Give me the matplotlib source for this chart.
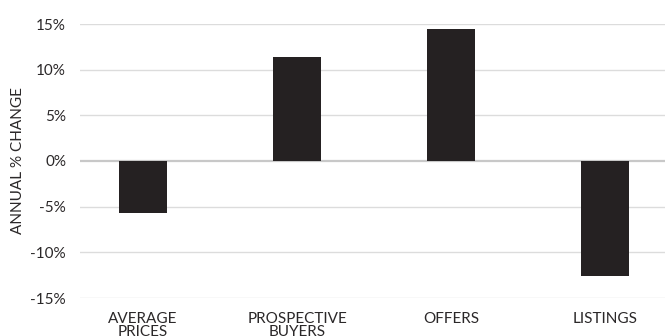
import matplotlib
matplotlib.use("Agg")
import matplotlib.pyplot as plt
from matplotlib.ticker import FuncFormatter

categories = ["AVERAGE\nPRICES", "PROSPECTIVE\nBUYERS", "OFFERS", "LISTINGS"]
values = [-5.7, 11.4, 14.5, -12.6]
yticks = [-15, -10, -5, 0, 5, 10, 15]

plt.rcParams['font.family'] = ['Lato', 'DejaVu Sans']
text_color = '#2b2829'

fig = plt.figure(figsize=(6.65, 3.36), dpi=100)
ax = fig.add_axes([80/665, 1-298/336, 1-80/665, (298-24)/336])

x = list(range(len(categories)))
ax.bar(x, values, width=0.31, color='#252122', zorder=3)

ax.set_ylim(-15, 15)
ax.set_xlim(-0.41, 3.39)
ax.set_yticks(yticks)
ax.yaxis.set_major_formatter(FuncFormatter(lambda v, p: f"{int(v)}%"))
ax.set_xticks(x)
ax.set_xticklabels(categories, linespacing=0.95)

for v in yticks:
    if v == 0:
        ax.axhline(v, color='#c8c8c8', lw=1.6, zorder=2)
    else:
        ax.axhline(v, color='#dcdcdc', lw=1.0, zorder=1)

for s in ax.spines.values():
    s.set_visible(False)
ax.tick_params(axis='both', length=0, colors=text_color, labelsize=11)
ax.tick_params(axis='y', pad=10)
ax.tick_params(axis='x', pad=10)
ax.set_ylabel("ANNUAL % CHANGE", color=text_color, fontsize=11, labelpad=4)

fig.savefig("out.png", dpi=100)
